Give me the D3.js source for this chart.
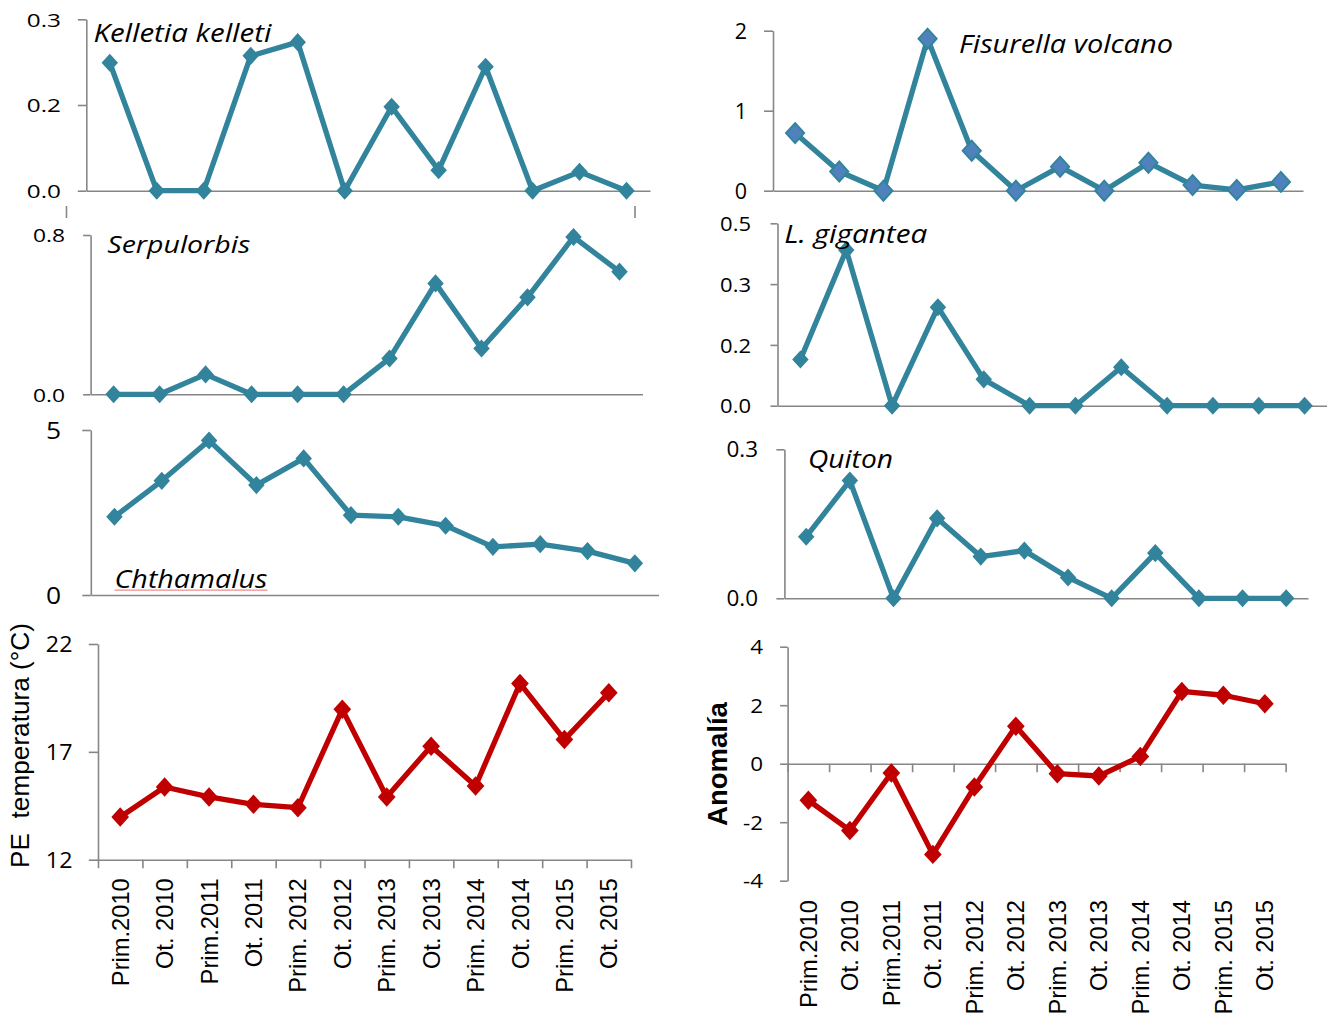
<!DOCTYPE html>
<html><head><meta charset="utf-8">
<script src="https://cdn.jsdelivr.net/npm/d3@7"></script>
<style>
body{margin:0;background:#fff}
svg{display:block}
text{fill:#000}
</style>
</head><body>
<svg id="c" width="1327" height="1017"></svg>
<script>
// ---------- data ----------
const categories = ["Prim.2010","Ot. 2010","Prim.2011","Ot. 2011","Prim. 2012","Ot. 2012",
                    "Prim. 2013","Ot. 2013","Prim. 2014","Ot. 2014","Prim. 2015","Ot. 2015"];
const kelletia    = [0.224,0,0,0.236,0.26,0,0.147,0.036,0.217,0,0.033,0];
const fisurella   = [0.72,0.24,0,1.90,0.50,0,0.30,0,0.35,0.07,0.01,0.11];
const serpulorbis = [0,0,0.10,0,0,0,0.18,0.557,0.23,0.487,0.79,0.616];
const chthamalus  = [2.37,3.46,4.68,3.33,4.14,2.42,2.37,2.10,1.46,1.54,1.33,0.96];
const gigantea    = [0.114,0.384,0,0.243,0.065,0,0,0.095,0,0,0,0];
const quiton      = [0.124,0.237,0,0.161,0.084,0.096,0.042,0,0.091,0,0,0];
const temperatura = [13.98,15.37,14.91,14.57,14.41,18.97,14.91,17.26,15.42,20.17,17.57,19.74];
const anomalia    = [-1.25,-2.28,-0.32,-3.10,-0.80,1.28,-0.34,-0.42,0.25,2.47,2.34,2.05];

const kelletiaTicks = [0,0.15,0.3],        kelletiaTickLabels = ["0.0","0.2","0.3"];
const fisurellaTicks = [0,1,2],            fisurellaTickLabels = ["0","1","2"];
const serpulorbisTicks = [0,0.8],          serpulorbisTickLabels = ["0.0","0.8"];
const chthamalusTicks = [0,5],             chthamalusTickLabels = ["0","5"];
const giganteaTicks = [0,0.15,0.3,0.45],   giganteaTickLabels = ["0.0","0.2","0.3","0.5"];
const quitonTicks = [0,0.3],               quitonTickLabels = ["0.0","0.3"];
const temperaturaTicks = [12,17,22],       temperaturaTickLabels = ["12","17","22"];
const anomaliaTicks = [-4,-2,0,2,4],       anomaliaTickLabels = ["-4","-2","0","2","4"];

// ---------- styles ----------
const TEAL = "#31849B", RED = "#C00000", AXIS = "#868686", BLUE = "#4F81BD";
const CAL = "'Open Sans', 'Noto Sans', sans-serif";
const ARIAL = "'Liberation Sans', Arial, sans-serif";

const svg = d3.select("#c");

function stretchText(sel, targetW) {
  const w = sel.node().getComputedTextLength();
  return w > 0 ? targetW / w : 1;
}

const panels = [
  {values:kelletia, ticks:kelletiaTicks, labels:kelletiaTickLabels, domain:[0,0.3],
   x0:86.3, x1:650, yBot:190.7, yTop:19.3, color:TEAL, m:9.3,
   tickLen:8.5, tickRight:61, tickFont:19, tickSx:1.28,
   title:"Kelletia kelleti", tx:93.4, ty:41.7, tsize:25.5, tw:178},
  {values:fisurella, ticks:fisurellaTicks, labels:fisurellaTickLabels, domain:[0,2],
   x0:773, x1:1303, yBot:190.7, yTop:30.7, color:TEAL, m:10.3, fill:BLUE,
   tickLen:9, tickRight:747, tickFont:21.5, tickSx:1.0,
   title:"Fisurella volcano", tx:959, ty:53.3, tsize:25.5, tw:214},
  {values:serpulorbis, ticks:serpulorbisTicks, labels:serpulorbisTickLabels, domain:[0,0.8],
   x0:90.6, x1:642.5, yBot:394.3, yTop:235, color:TEAL, m:9.3,
   tickLen:7.5, tickRight:65, tickFont:19, tickSx:1.2,
   title:"Serpulorbis", tx:107.3, ty:253.3, tsize:24.5, tw:143},
  {values:chthamalus, ticks:chthamalusTicks, labels:chthamalusTickLabels, domain:[0,5],
   x0:90.8, x1:658.5, yBot:595, yTop:430, color:TEAL, m:9.3,
   tickLen:8.5, tickRight:61, tickFont:23.6, tickSx:1.12,
   title:"Chthamalus", tx:114.5, ty:587.7, tsize:25.5, tw:153, underline:true},
  {values:gigantea, ticks:giganteaTicks, labels:giganteaTickLabels, domain:[0,0.45],
   x0:777.5, x1:1327.5, yBot:405.7, yTop:223.3, color:TEAL, m:9.3,
   tickLen:7, tickRight:751, tickFont:20, tickSx:1.1,
   title:"L. gigantea", tx:784.3, ty:243.3, tsize:25.5, tw:143},
  {values:quiton, ticks:quitonTicks, labels:quitonTickLabels, domain:[0,0.3],
   x0:784.4, x1:1308, yBot:598.3, yTop:449.3, color:TEAL, m:9.3,
   tickLen:8, tickRight:758, tickFont:21, tickSx:1.07,
   title:"Quiton", tx:808, ty:467.5, tsize:25, tw:85},
  {values:temperatura, ticks:temperaturaTicks, labels:temperaturaTickLabels, domain:[12,22],
   x0:98, x1:631, yBot:859.7, yTop:644, color:RED, m:10,
   tickLen:9.2, tickRight:72.4, tickFont:21.5, tickSx:1.08,
   catAxis:true, catOffset:18.5, zero:12,
   ylabel:"PE  temperatura (°C)", ylx:29, yly:745.5, ylsize:26.2, ylbold:false},
  {values:anomalia, ticks:anomaliaTicks, labels:anomaliaTickLabels, domain:[-4,4],
   x0:787.6, x1:1285.6, yBot:880.7, yTop:646.7, color:RED, m:10,
   tickLen:7.5, tickRight:763, tickFont:20, tickSx:1.12,
   catAxis:true, catOffset:136.3, zero:0,
   ylabel:"Anomalía", ylx:726.6, yly:764, ylsize:27.5, ylbold:true}
];

panels.forEach(p => {
  const g = svg.append("g");
  const x = d3.scaleBand().domain(categories).range([p.x0, p.x1]).padding(0);
  const y = d3.scaleLinear().domain(p.domain).range([p.yBot, p.yTop]);
  const cx = d => x(d) + x.bandwidth() / 2;
  const zeroVal = p.zero !== undefined ? p.zero : p.domain[0];

  // y axis
  const yAxisG = g.append("g").attr("transform", `translate(${p.x0},0)`)
    .call(d3.axisLeft(y).tickValues(p.ticks).tickSize(p.tickLen).tickSizeOuter(0)
      .tickFormat((d, i) => p.labels[i]));
  yAxisG.select(".domain").attr("stroke", AXIS).attr("stroke-width", 1.6);
  yAxisG.selectAll(".tick line").attr("stroke", AXIS).attr("stroke-width", 1.6);
  const gap = p.x0 - p.tickRight;
  yAxisG.selectAll(".tick text")
    .attr("font-family", CAL).attr("font-size", p.tickFont).attr("fill", "#000")
    .attr("dy", "0.36em")
    .attr("x", -gap / p.tickSx)
    .attr("transform", `scale(${p.tickSx},1)`);

  // x axis (domain line at zero)
  const xAxisG = g.append("g").attr("transform", `translate(0,${y(zeroVal)})`)
    .call(d3.axisBottom(x).tickSize(0).tickSizeOuter(0).tickFormat(p.catAxis ? (d => d) : ""));
  xAxisG.select(".domain").attr("stroke", AXIS).attr("stroke-width", 1.6);

  if (p.catAxis) {
    // boundary tick marks
    const xb = d3.scaleLinear().domain([0, categories.length]).range([p.x0, p.x1]);
    const bG = g.append("g").attr("transform", `translate(0,${y(zeroVal)})`)
      .call(d3.axisBottom(xb).tickValues(d3.range(categories.length + 1)).tickSize(8.5).tickFormat(""));
    bG.select(".domain").remove();
    bG.selectAll(".tick line").attr("stroke", AXIS).attr("stroke-width", 1.6);
    // rotated category labels
    xAxisG.selectAll(".tick text")
      .attr("font-family", ARIAL).attr("font-size", 23.7).attr("fill", "#000")
      .attr("text-anchor", "end").attr("x", 0).attr("y", 0).attr("dy", "0.36em")
      .attr("transform", `translate(0,${p.catOffset}) rotate(-90)`);
    // y label
    g.append("text")
      .attr("transform", `translate(${p.ylx},${p.yly}) rotate(-90)`)
      .attr("text-anchor", "middle")
      .attr("font-family", ARIAL).attr("font-size", p.ylsize)
      .attr("font-weight", p.ylbold ? "bold" : "normal")
      .style("white-space", "pre")
      .text(p.ylabel);
  }

  // line
  const line = d3.line().x((d, i) => cx(categories[i])).y(d => y(d));
  g.append("path").datum(p.values)
    .attr("d", line).attr("fill", "none").attr("stroke", p.color)
    .attr("stroke-width", 5.3).attr("stroke-linejoin", "round");

  // diamond markers (slightly taller than wide, as in the original)
  const sym = d3.symbol().type(d3.symbolDiamond2).size(2 * p.m * p.m);
  g.selectAll("path.mk").data(p.values).join("path").attr("class", "mk")
    .attr("transform", (d, i) => `translate(${cx(categories[i])},${y(d)}) scale(1,1.1)`)
    .attr("d", sym)
    .attr("fill", p.fill || p.color)
    .attr("stroke", p.fill ? TEAL : "none")
    .attr("stroke-width", p.fill ? 1.8 : 0);

  // species title
  if (p.title) {
    const t = g.append("text")
      .attr("font-family", CAL).attr("font-style", "italic").attr("font-size", p.tsize)
      .text(p.title);
    const sx = stretchText(t, p.tw);
    t.attr("transform", `translate(${p.tx},${p.ty}) scale(${sx},1)`);
    if (p.underline) {
      g.append("line").attr("x1", p.tx).attr("x2", p.tx + p.tw)
        .attr("y1", p.ty + 2.5).attr("y2", p.ty + 2.5)
        .attr("stroke", "#F08C8C").attr("stroke-width", 1.2);
    }
  }
});

// small stray tick marks under the first panel (from the original layout)
[66.5, 635].forEach(xx => {
  svg.append("line").attr("x1", xx).attr("x2", xx).attr("y1", 206).attr("y2", 218)
    .attr("stroke", AXIS).attr("stroke-width", 1.6);
});
</script>
</body></html>
